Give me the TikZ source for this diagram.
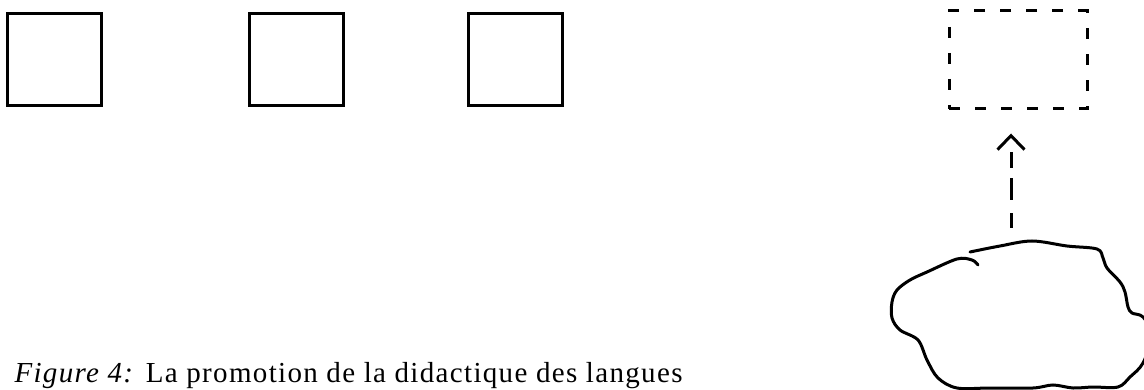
\documentclass[tikz,border=0pt]{standalone}
\usepackage{fontspec}
\setmainfont{Liberation Serif}
\usetikzlibrary{arrows.meta}

\begin{document}
\begin{tikzpicture}[x=1pt,y=-1pt,line width=3pt]
      \useasboundingbox (0,0) rectangle (1144,390);

      \begin{scope}[every node/.style={draw,minimum width=94pt,minimum height=92pt,inner sep=0pt}]
        \node (b1) at (54,60) {};
        \node (b2) at (296,60) {};
        \node (b3) at (515,60) {};
        \node[dash pattern=on 11pt off 15pt,minimum width=138pt,minimum height=98pt] (goal) at (1018,60) {};
      \end{scope}

      % the blob
      \draw[line cap=round] plot[smooth,tension=0.55] coordinates {
        (970,252) (1000,246) (1032,241) (1067,246) (1097,249) (1103,258)
        (1107,268) (1120,282) (1125,292) (1128,307) (1132,313) (1143,317)
        (1152,335) (1143,363) (1130,377) (1118,387) (1093,387) (1073,388)
        (1053,385) (1033,388) (990,388) (957,388) (938,378) (927,360)
        (918,340) (900,330) (892,318) (892,302) (897,290) (910,280)
        (927,272) (957,259) (972,260) (978,265)};
      \coordinate (foot) at (1011,241);

      \path (foot) edge[dash pattern=on 15pt off 13pt on 22pt off 10pt on 16pt off 60pt,
        shorten <=13pt,shorten >=23pt,-{Straight Barb[length=14pt,width=27pt]}]
        (foot |- goal.south);

      \node[anchor=base west,inner sep=0pt,font=\fontsize{29}{34}\selectfont\addfontfeature{LetterSpace=4.6}] (cap) at (13,382)
        {\textit{Figure 4:} La promotion de la didactique des langues};

    \end{tikzpicture}
\end{document}
